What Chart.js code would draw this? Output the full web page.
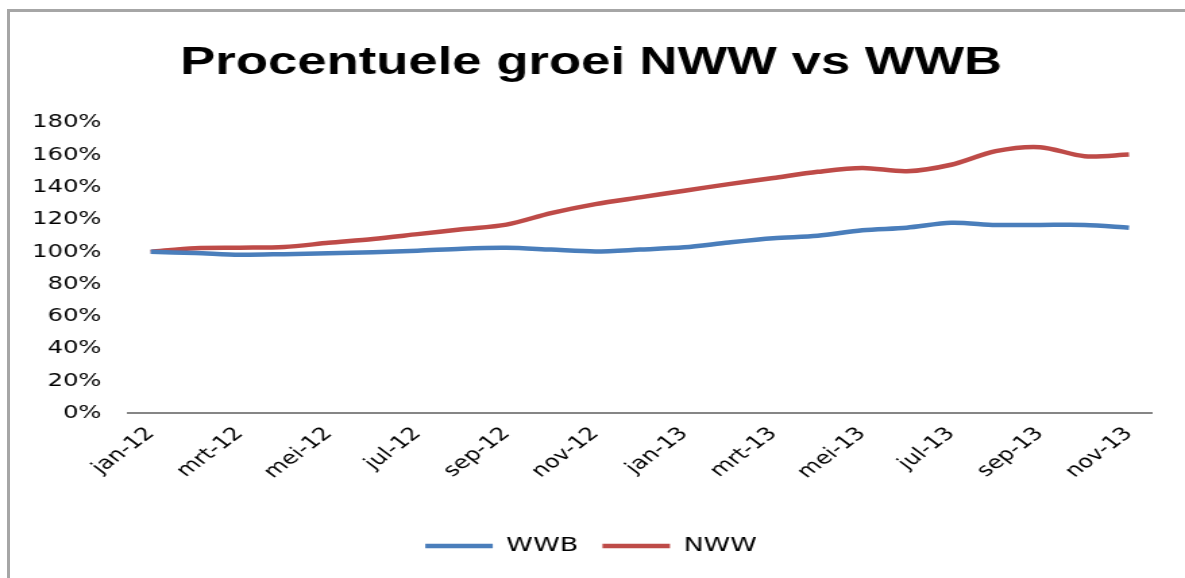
<!DOCTYPE html>
<html>
<head>
<meta charset="utf-8">
<script src="https://cdn.jsdelivr.net/npm/chart.js@4"></script>
<style>
  html, body { margin: 0; padding: 0; background: #fff; }
  body { width: 1185px; height: 578px; position: relative; overflow: hidden; }
  #frame { position: absolute; left: 7px; top: 9px; width: 1200px; height: 600px;
           border-left: 3px solid #a6a6a6; border-top: 3px solid #a6a6a6; }
  #c { position: absolute; left: 0; top: 0; }
</style>
</head>
<body>
<div id="frame"></div>
<!-- the reference is stretched sideways, so the canvas is drawn narrow and widened with css -->
<canvas id="c" width="878" height="578" style="width:1185px;height:578px"></canvas>
<script>
const maanden = ['jan-12','feb-12','mrt-12','apr-12','mei-12','jun-12','jul-12','aug-12','sep-12','okt-12','nov-12','dec-12',
                 'jan-13','feb-13','mrt-13','apr-13','mei-13','jun-13','jul-13','aug-13','sep-13','okt-13','nov-13'];

// groei in procent
const wwb = [100, 99.3, 98.2, 98.6, 99.2, 99.8, 100.7, 102, 102.5, 101.4, 100.3, 101.4,
             102.8, 105.8, 108.4, 110, 113.4, 115, 118, 116.7, 116.7, 116.7, 115];
const nww = [100, 102.3, 102.6, 103, 105.6, 108, 111, 114, 116.9, 124, 129.6, 133.8,
             137.9, 142, 145.8, 149.6, 152, 150, 154, 162.4, 164.9, 159.3, 160.3];

const yMin = 0, yMax = 180, yStap = 20;

new Chart(document.getElementById('c'), {
  type: 'line',
  data: {
    labels: maanden,
    datasets: [{
      label: 'WWB',
      data: wwb,
      borderColor: '#4a7ebb',
      backgroundColor: '#4a7ebb',
      borderWidth: 4.5,
      pointRadius: 0,
      tension: 0.3
    }, {
      label: 'NWW',
      data: nww,
      borderColor: '#be4b48',
      backgroundColor: '#be4b48',
      borderWidth: 4.5,
      pointRadius: 0,
      tension: 0.3
    }]
  },
  options: {
    responsive: false,
    animation: false,
    layout: { padding: { left: 23, right: 25, top: 0, bottom: 12 } },
    plugins: {
      title: {
        display: true,
        text: 'Procentuele groei NWW vs WWB',
        color: '#000',
        font: { family: "'Liberation Sans', Arial, sans-serif", size: 39, weight: 'bold' },
        padding: { top: 40, bottom: 36 }
      },
      legend: {
        position: 'bottom',
        labels: {
          usePointStyle: true,
          pointStyle: 'line',
          pointStyleWidth: 50,
          color: '#000',
          padding: 18,
          font: { family: "'DejaVu Sans', sans-serif", size: 20 }
        }
      },
      tooltip: { enabled: false }
    },
    scales: {
      x: {
        offset: true,
        grid: { display: false, drawTicks: false },
        border: { display: true, color: '#868686', width: 2 },
        // lege titel: alleen ruimte tussen de labels en de legenda
        title: { display: true, text: '', padding: 0, font: { size: 20.8 } },
        ticks: {
          autoSkip: false,
          minRotation: 45,
          maxRotation: 45,
          padding: 10,
          color: '#000',
          font: { family: "'DejaVu Sans', sans-serif", size: 18 },
          callback: (v, i) => i % 2 === 0 ? maanden[i] : ''
        }
      },
      y: {
        min: yMin,
        max: yMax,
        grid: { display: false, drawTicks: false },
        border: { display: false },
        afterFit: scale => { scale.width = 72.2; },
        ticks: {
          stepSize: yStap,
          padding: 20,
          color: '#000',
          font: { family: "'DejaVu Sans', sans-serif", size: 18 },
          callback: v => v + '%'
        }
      }
    }
  }
});
</script>
</body>
</html>
